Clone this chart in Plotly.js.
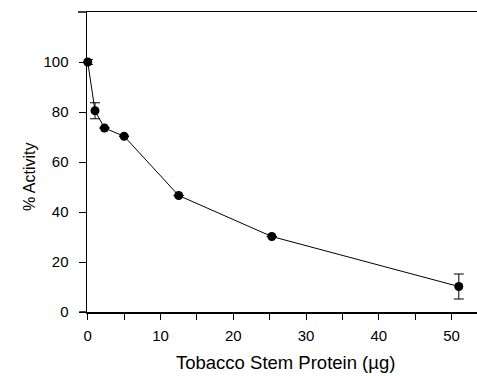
<!DOCTYPE html>
<html>
<head>
<meta charset="utf-8">
<script src="https://cdn.plot.ly/plotly-3.0.1.min.js"></script>
<style>html,body{margin:0;padding:0;background:#fff;}#chart{width:477px;height:376px;}</style>
</head>
<body>
<div id="chart"></div>
<script>
const protein = [0, 1, 2.3, 5, 12.5, 25.3, 51];
const activity = [100, 80.5, 73.6, 70.3, 46.6, 30.2, 10.2];
const errors = [1, 3.2, 0, 0, 0, 0, 5];
const xTicks = [0, 10, 20, 30, 40, 50];
const yTicks = [0, 20, 40, 60, 80, 100];

const font = "'Liberation Sans', Arial, Helvetica, sans-serif";

const trace = {
  x: protein, y: activity, type: 'scatter', mode: 'lines+markers',
  line: {color: '#000', width: 1},
  marker: {color: '#000', size: 9},
  error_y: {type: 'data', array: errors, visible: true, color: '#000', thickness: 1, width: 5},
  cliponaxis: false, showlegend: false
};

const layout = {
  width: 477, height: 376,
  margin: {l: 87, r: 0, t: 12, b: 64},
  paper_bgcolor: '#fff', plot_bgcolor: '#fff',
  font: {family: font, color: '#000', size: 15},
  xaxis: {
    range: [-0.1, 53.5], tickvals: xTicks, ticktext: xTicks.map(String),
    ticks: 'outside', ticklen: 6, tickwidth: 1, tickcolor: '#000',
    minor: {dtick: 5, tick0: 0, ticks: 'outside', ticklen: 6, tickwidth: 1, tickcolor: '#000'},
    showline: true, linecolor: '#000', linewidth: 1.5, mirror: true,
    showgrid: false, zeroline: false, ticklabelstandoff: 3,
    tickfont: {size: 15}
  },
  yaxis: {
    range: [0, 120], tickvals: yTicks, ticktext: yTicks.map(String),
    ticks: 'outside', ticklen: 7, tickwidth: 1, tickcolor: '#000',
    showline: true, linecolor: '#000', linewidth: 1.5,
    showgrid: false, zeroline: false, ticklabelstandoff: 7,
    tickfont: {size: 15}
  },
  shapes: [
    {type: 'line', xref: 'paper', yref: 'paper', x0: -0.02, x1: 0, y0: 0, y1: 0, line: {color: '#000', width: 1.5}},
    {type: 'line', xref: 'paper', yref: 'paper', x0: -0.023, x1: 0, y0: 1, y1: 1, line: {color: '#000', width: 1.5}}
  ],
  annotations: [
    {text: 'Tobacco Stem Protein (µg)', xref: 'paper', yref: 'paper', x: 0.51, y: 0, yshift: -50,
     xanchor: 'center', yanchor: 'middle', showarrow: false, font: {size: 18.5}},
    {text: '% Activity', xref: 'paper', yref: 'paper', x: 0, xshift: -58, y: 0.45,
     xanchor: 'center', yanchor: 'middle', textangle: -90, showarrow: false, font: {size: 16}}
  ]
};

Plotly.newPlot('chart', [trace], layout, {displayModeBar: false, staticPlot: true});
</script>
</body>
</html>
